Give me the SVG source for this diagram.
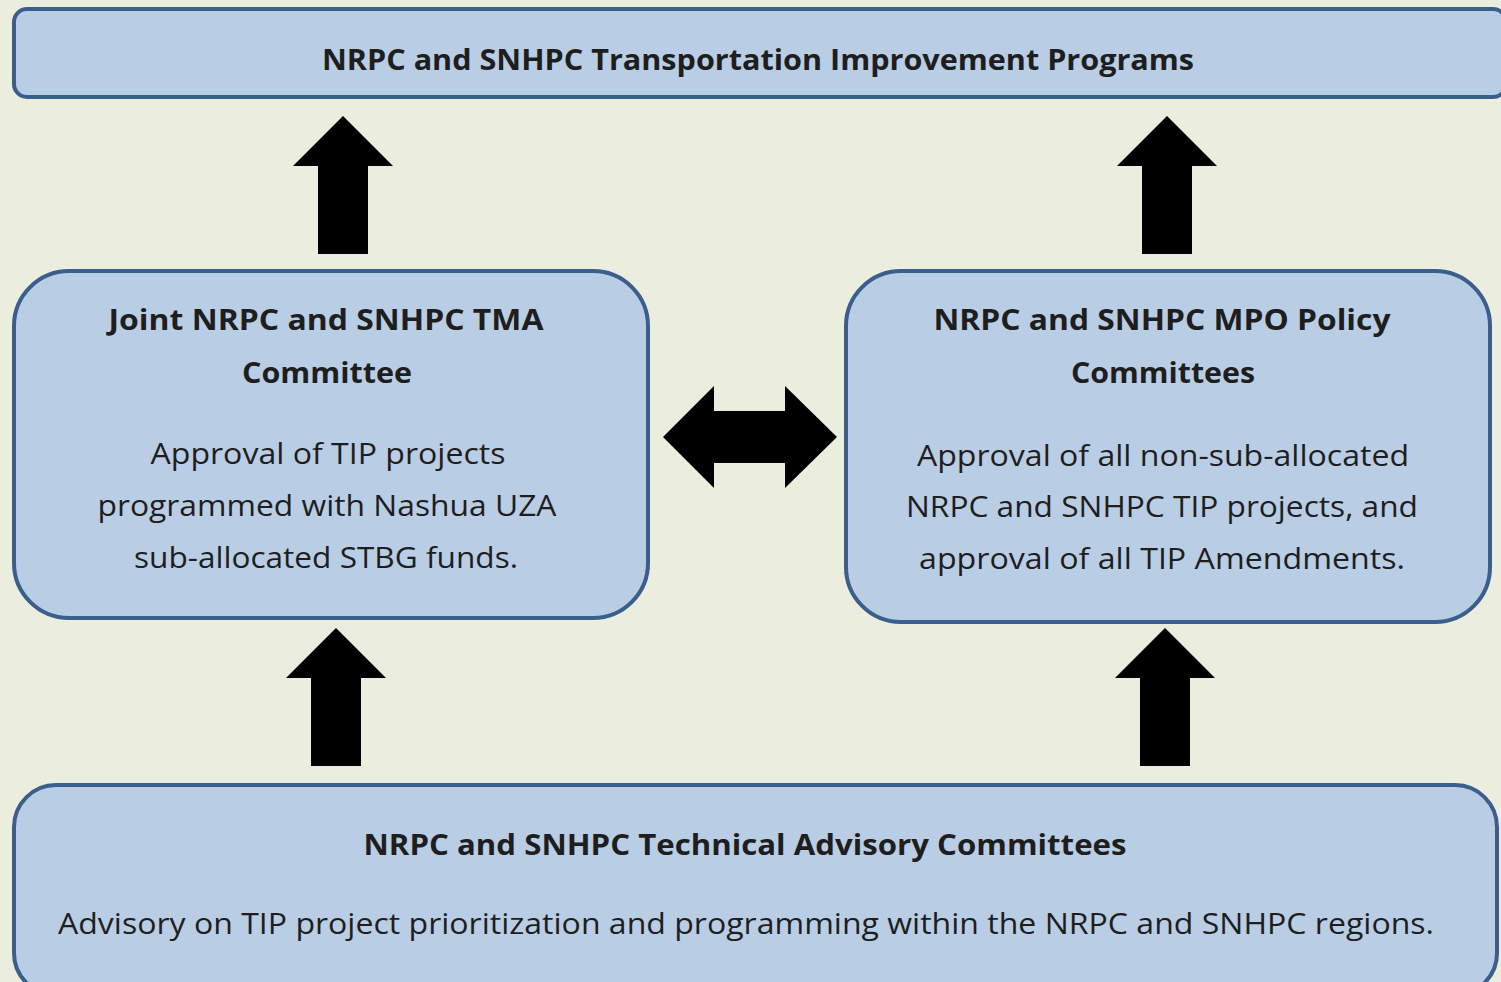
<svg xmlns="http://www.w3.org/2000/svg" width="1501" height="982" viewBox="0 0 1501 982">
<style>
.box{fill:#b9cde5;stroke:#3b5f8d;stroke-width:4}
.arr{fill:#000}
.t{font-family:"Open Sans","Noto Sans","Liberation Sans",sans-serif;font-size:29px;fill:#1e1e1e}
.b{font-weight:bold}
</style>
<rect x="0" y="0" width="1501" height="982" fill="#ebeedf"/>
<g id="connectors">
<polygon class="arr" points="343,116 393,166 368,166 368,254 318,254 318,166 293,166"/>
<polygon class="arr" points="1167,116 1217,166 1192,166 1192,254 1142,254 1142,166 1117,166"/>
<polygon class="arr" points="336,628 386,678 361,678 361,766 311,766 311,678 286,678"/>
<polygon class="arr" points="1165,628 1215,678 1190,678 1190,766 1140,766 1140,678 1115,678"/>
<polygon class="arr" points="663,437 714,386 714,411 785,411 785,386 837,437 785,488 785,463 714,463 714,488"/>
</g>
<g id="tip">
<rect class="box" x="14" y="9" width="1492" height="88" rx="13"/>
<text class="t b" x="758" y="70" text-anchor="middle" textLength="872" lengthAdjust="spacingAndGlyphs">NRPC and SNHPC Transportation Improvement Programs</text>
</g>
<g id="tma">
<rect class="box" x="14" y="271" width="634" height="347" rx="55"/>
<text class="t b" x="326" y="330" text-anchor="middle" textLength="435" lengthAdjust="spacingAndGlyphs">Joint NRPC and SNHPC TMA</text>
<text class="t b" x="327" y="383" text-anchor="middle" textLength="170" lengthAdjust="spacingAndGlyphs">Committee</text>
<text class="t" x="328" y="464" text-anchor="middle" textLength="355" lengthAdjust="spacingAndGlyphs">Approval of TIP projects</text>
<text class="t" x="327" y="516" text-anchor="middle" textLength="459" lengthAdjust="spacingAndGlyphs">programmed with Nashua UZA</text>
<text class="t" x="326" y="568" text-anchor="middle" textLength="384" lengthAdjust="spacingAndGlyphs">sub-allocated STBG funds.</text>
</g>
<g id="mpo">
<rect class="box" x="846" y="271" width="644" height="351" rx="55"/>
<text class="t b" x="1162" y="330" text-anchor="middle" textLength="457" lengthAdjust="spacingAndGlyphs">NRPC and SNHPC MPO Policy</text>
<text class="t b" x="1163" y="383" text-anchor="middle" textLength="184" lengthAdjust="spacingAndGlyphs">Committees</text>
<text class="t" x="1163" y="466" text-anchor="middle" textLength="492" lengthAdjust="spacingAndGlyphs">Approval of all non-sub-allocated</text>
<text class="t" x="1162" y="517" text-anchor="middle" textLength="512" lengthAdjust="spacingAndGlyphs">NRPC and SNHPC TIP projects, and</text>
<text class="t" x="1162" y="569" text-anchor="middle" textLength="486" lengthAdjust="spacingAndGlyphs">approval of all TIP Amendments.</text>
</g>
<g id="tac">
<rect class="box" x="14" y="785" width="1483" height="210" rx="42"/>
<text class="t b" x="745" y="855" text-anchor="middle" textLength="763" lengthAdjust="spacingAndGlyphs">NRPC and SNHPC Technical Advisory Committees</text>
<text class="t" x="746" y="934" text-anchor="middle" textLength="1376" lengthAdjust="spacingAndGlyphs">Advisory on TIP project prioritization and programming within the NRPC and SNHPC regions.</text>
</g>
</svg>
